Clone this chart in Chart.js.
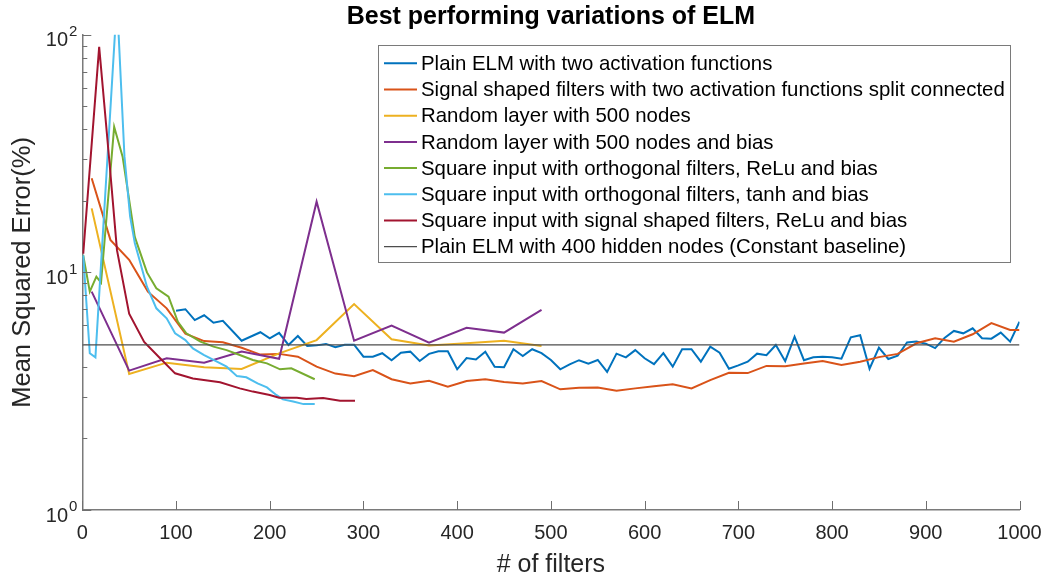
<!DOCTYPE html>
<html>
<head>
<meta charset="utf-8">
<script src="https://cdn.jsdelivr.net/npm/chart.js@4.4.1/dist/chart.umd.min.js"></script>
<style>
  html, body { margin: 0; padding: 0; background: #fff; }
  #wrap { width: 1050px; height: 581px; }
</style>
</head>
<body>
<div id="wrap"><canvas id="elm"></canvas></div>
<script>
const FONT = '"Liberation Sans", Arial, Helvetica, sans-serif';

const chartTitle = "Best performing variations of ELM";
const seriesNames = [
  "Plain ELM with two activation functions",
  "Signal shaped filters with two activation functions split connected",
  "Random layer with 500 nodes",
  "Random layer with 500 nodes and bias",
  "Square input with orthogonal filters, ReLu and bias",
  "Square input with orthogonal filters, tanh and bias",
  "Square input with signal shaped filters, ReLu and bias",
  "Plain ELM with 400 hidden nodes (Constant baseline)"
];
const seriesColors = ["#0072BD", "#D95319", "#EDB120", "#7E2F8E", "#77AC30", "#4DBEEE", "#A2142F", "#4d4d4d"];

// [# of filters, mean squared error in %]
const plainTwoAct = [
  [100,6.9],[110,7.0],[120,6.3],[130,6.6],[140,6.14],[150,6.26],[170,5.16],[190,5.6],[200,5.28],
  [210,5.57],[220,4.95],[230,5.4],[240,4.9],[250,4.93],[260,5.0],[270,4.84],[280,4.96],[290,4.96],
  [300,4.42],[310,4.42],[320,4.57],[330,4.27],[340,4.59],[350,4.64],[360,4.24],[370,4.54],[380,4.66],
  [390,4.66],[400,3.91],[410,4.36],[420,4.30],[430,4.64],[440,4.01],[450,3.99],[460,4.75],[470,4.45],
  [480,4.75],[490,4.57],[500,4.28],[510,3.91],[520,4.10],[530,4.27],[540,4.13],[550,4.28],[560,3.81],
  [570,4.55],[580,4.39],[590,4.71],[600,4.35],[610,4.11],[620,4.57],[630,4.01],[640,4.75],[650,4.75],
  [660,4.21],[670,4.87],[680,4.59],[690,3.93],[700,4.06],[710,4.21],[720,4.55],[730,4.48],[740,4.95],
  [750,4.23],[760,5.36],[770,4.27],[780,4.39],[790,4.42],[800,4.39],[810,4.33],[820,5.33],[830,5.44],
  [840,3.93],[850,4.82],[860,4.32],[870,4.46],[880,5.07],[890,5.12],[900,5.01],[910,4.80],[920,5.30],
  [930,5.67],[940,5.54],[950,5.82],[960,5.28],[970,5.26],[980,5.58],[990,5.11],[1000,6.20]
];
const signalSplit = [
  [10,24.9],[30,13.7],[50,11.3],[70,8.3],[90,7.06],[110,5.52],[130,5.14],[150,5.08],[170,4.82],
  [190,4.51],[210,4.54],[230,4.42],[250,4.01],[270,3.75],[290,3.66],[310,3.88],[330,3.55],[350,3.41],
  [370,3.50],[390,3.30],[410,3.49],[430,3.55],[450,3.46],[470,3.41],[490,3.49],[510,3.22],[530,3.27],
  [550,3.28],[570,3.18],[590,3.25],[610,3.32],[630,3.38],[650,3.25],[670,3.52],[690,3.78],[710,3.77],
  [730,4.04],[750,4.03],[770,4.14],[790,4.24],[810,4.08],[830,4.21],[850,4.40],[870,4.54],[890,5.03],
  [910,5.28],[930,5.11],[950,5.49],[970,6.12],[990,5.72],[1000,5.72]
];
const randomLayer = [
  [10,18.6],[50,3.74],[90,4.17],[130,3.99],[170,3.92],[210,4.56],[250,5.19],[290,7.36],
  [330,5.23],[370,4.92],[410,5.03],[450,5.15],[490,4.90]
];
const randomLayerBias = [
  [10,8.3],[50,3.86],[90,4.35],[130,4.17],[170,4.64],[210,4.33],[250,19.85],[290,5.16],
  [330,5.97],[370,5.06],[410,5.85],[450,5.58],[490,6.95]
];
const squareOrthoRelu = [
  [1,11.8],[8,8.3],[15,9.6],[20,9.05],[34,41],[43,30.7],[56,14.1],[69,10],[79,8.57],[92,7.9],
  [102,6.2],[111,5.54],[126,5.11],[140,4.87],[154,4.71],[168,4.49],[182,4.28],[197,4.14],
  [211,3.91],[223,3.95],[248,3.55]
];
const squareOrthoTanh = [
  [1,11.8],[8,4.57],[14,4.39],[37,140],[45,30.7],[51,17.2],[56,13.3],[69,8.7],[79,7.06],[90,6.41],
  [99,5.54],[110,5.19],[118,4.79],[130,4.49],[140,4.28],[154,4.01],[165,3.66],[175,3.62],[187,3.41],
  [197,3.28],[207,3.05],[214,2.92],[225,2.86],[236,2.79],[248,2.79]
];
const squareSignalRelu = [
  [1,12.0],[18,89],[29,29],[37,12.4],[50,6.7],[66,5.1],[83,4.35],[99,3.76],[118,3.58],[147,3.45],
  [168,3.25],[182,3.15],[200,3.05],[210,2.97],[229,2.97],[239,2.93],[257,2.96],[275,2.88],[291,2.88]
];
const baselineValue = 4.95;
const baseline = [[0, baselineValue], [1000, baselineValue]];

const xTicks = [0, 100, 200, 300, 400, 500, 600, 700, 800, 900, 1000];
const yDecades = [1, 10, 100];

const allSeries = [plainTwoAct, signalSplit, randomLayer, randomLayerBias,
  squareOrthoRelu, squareOrthoTanh, squareSignalRelu, baseline];

const datasets = allSeries.map((pts, i) => ({
  label: seriesNames[i],
  data: pts.map(p => ({ x: p[0], y: p[1] })),
  borderColor: seriesColors[i],
  backgroundColor: seriesColors[i],
  borderWidth: i === 7 ? 1.2 : 2,
  pointRadius: 0,
  tension: 0,
  fill: false,
  clip: 0,
  order: allSeries.length - i   // later series drawn on top
}));

// title over the plot, inward ticks, 10^n labels and the boxed legend
const matlabAxes = {
  id: "matlabAxes",
  afterDraw(chart) {
    const ctx = chart.ctx;
    const xs = chart.scales.x, ys = chart.scales.y, area = chart.chartArea;
    ctx.save();

    ctx.fillStyle = "#000";
    ctx.font = "bold 25px " + FONT;
    ctx.textAlign = "center";
    ctx.textBaseline = "middle";
    ctx.fillText(chartTitle, (area.left + area.right) / 2, 17);

    ctx.strokeStyle = "#6f6f6f";
    ctx.lineWidth = 1;
    ctx.beginPath();
    xTicks.forEach(t => {
      const px = Math.round(xs.getPixelForValue(t)) + 0.5;
      ctx.moveTo(px, area.bottom);
      ctx.lineTo(px, area.bottom - 9);
    });
    yDecades.forEach((d, k) => {
      const py = Math.round(ys.getPixelForValue(d)) + 0.5;
      ctx.moveTo(area.left, py);
      ctx.lineTo(area.left + 9, py);
      if (k < yDecades.length - 1) {
        for (let m = 2; m <= 9; m++) {
          const pm = Math.round(ys.getPixelForValue(d * m)) + 0.5;
          ctx.moveTo(area.left, pm);
          ctx.lineTo(area.left + 5, pm);
        }
      }
    });
    ctx.stroke();

    // y tick labels as 10 with raised exponent
    ctx.fillStyle = "#262626";
    ctx.textBaseline = "middle";
    yDecades.forEach(d => {
      const py = ys.getPixelForValue(d);
      ctx.font = "20px " + FONT;
      ctx.textAlign = "right";
      ctx.fillText("10", 68, py + 6);
      ctx.font = "15px " + FONT;
      ctx.textAlign = "left";
      ctx.fillText(String(Math.round(Math.log10(d))), 69, py - 3);
    });

    // legend box
    const lx = 378, ly = 45, lw = 632, lh = 217, rowH = 26.2, row0 = 63.3;
    ctx.fillStyle = "#ffffff";
    ctx.fillRect(lx, ly, lw, lh);
    ctx.strokeStyle = "#7a7a7a";
    ctx.lineWidth = 1;
    ctx.strokeRect(lx + 0.5, ly + 0.5, lw, lh);
    chart.data.datasets.forEach((ds, i) => {
      const ry = row0 + i * rowH;
      ctx.strokeStyle = ds.borderColor;
      ctx.lineWidth = ds.borderWidth;
      ctx.beginPath();
      ctx.moveTo(384, ry);
      ctx.lineTo(417, ry);
      ctx.stroke();
      ctx.fillStyle = "#000000";
      ctx.font = "20.4px " + FONT;
      ctx.textAlign = "left";
      ctx.textBaseline = "middle";
      ctx.fillText(ds.label, 421, ry + 1);
    });
    ctx.restore();
  }
};

new Chart(document.getElementById("elm"), {
  type: "line",
  data: { datasets },
  plugins: [matlabAxes],
  options: {
    animation: false,
    responsive: true,
    maintainAspectRatio: false,
    devicePixelRatio: 1,
    layout: { padding: { left: 0, right: 30.5, top: 34.8, bottom: 0 } },
    plugins: {
      legend: { display: false },
      tooltip: { enabled: false },
      title: { display: false }
    },
    scales: {
      x: {
        type: "linear",
        min: 0,
        max: 1000,
        afterFit: s => { s.height = 71; s.paddingLeft = 0; s.paddingRight = 0; },
        grid: { display: false, drawTicks: false },
        border: { display: true, color: "#7a7a7a", width: 1.5 },
        ticks: {
          stepSize: 100,
          maxRotation: 0,
          autoSkip: false,
          padding: 11,
          color: "#262626",
          font: { family: FONT, size: 20 },
          callback: v => String(v)
        },
        title: {
          display: true,
          text: "# of filters",
          color: "#262626",
          font: { family: FONT, size: 25, lineHeight: 1.2 },
          padding: { top: 0, bottom: 1 }
        }
      },
      y: {
        type: "logarithmic",
        min: 1,
        max: 100,
        afterFit: s => { s.width = 82.3; s.paddingTop = 0; s.paddingBottom = 0; },
        grid: { display: false, drawTicks: false },
        border: { display: true, color: "#7a7a7a", width: 1.5 },
        ticks: { display: false },
        title: {
          display: true,
          text: "Mean Squared Error(%)",
          color: "#262626",
          font: { family: FONT, size: 25.5, lineHeight: 1.2 },
          padding: { top: 7.5, bottom: 0 }
        }
      }
    }
  }
});
</script>
</body>
</html>
